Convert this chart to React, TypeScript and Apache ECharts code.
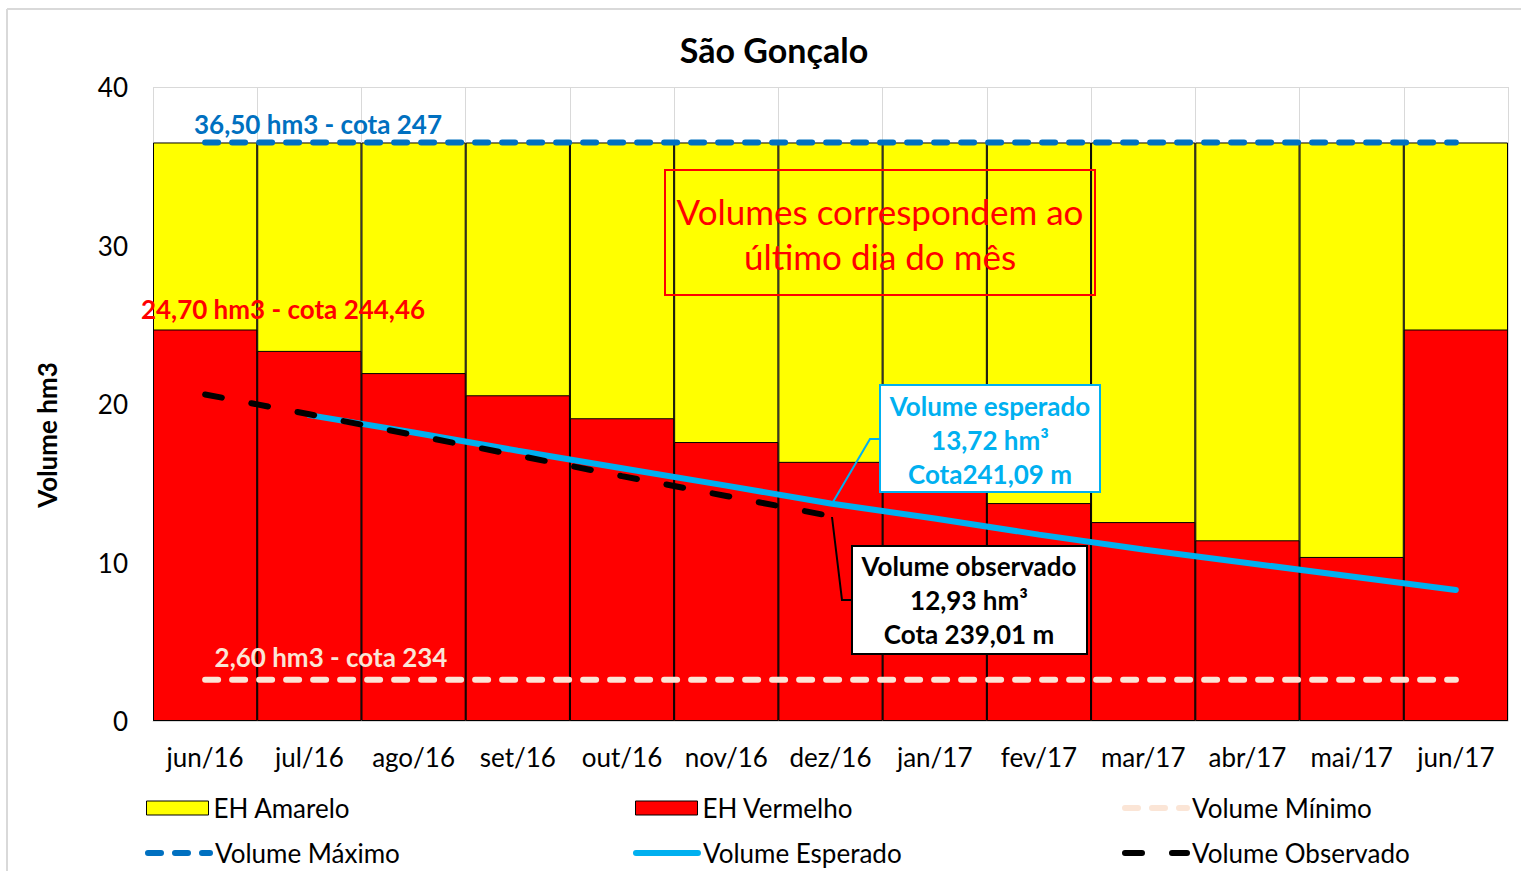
import React, { useEffect, useRef } from "react";
import * as echarts from "echarts";

const categories = ["jun/16", "jul/16", "ago/16", "set/16", "out/16", "nov/16", "dez/16", "jan/17", "fev/17", "mar/17", "abr/17", "mai/17", "jun/17"];
const ehAmarelo = [36.5, 36.5, 36.5, 36.5, 36.5, 36.5, 36.5, 36.5, 36.5, 36.5, 36.5, 36.5, 36.5];
const ehVermelho = [24.7, 23.35, 21.95, 20.55, 19.1, 17.6, 16.35, 15.05, 13.75, 12.55, 11.4, 10.35, 24.7];
const volumeMinimo = [2.6, 2.6, 2.6, 2.6, 2.6, 2.6, 2.6, 2.6, 2.6, 2.6, 2.6, 2.6, 2.6];
const volumeMaximo = [36.5, 36.5, 36.5, 36.5, 36.5, 36.5, 36.5, 36.5, 36.5, 36.5, 36.5, 36.5, 36.5];
const volumeEsperado = [null, 19.3, 18.2, 17.05, 15.95, 14.85, 13.72, 12.78, 11.76, 10.82, 9.97, 9.12, 8.27];
const volumeObservado = [20.6, 19.35, 18.05, 16.75, 15.45, 14.2, 12.93, null, null, null, null, null, null];
const yTicks = { min: 0, max: 40, interval: 10 };

const FONT = "Lato, 'Open Sans', sans-serif";

export default function App() {
  const ref = useRef<HTMLDivElement>(null);
  useEffect(() => {
    document.body.style.margin = "0";
    document.body.style.overflow = "hidden";
    const chart = echarts.init(ref.current!, null, { renderer: "svg" });
    const legendBase = {
      itemWidth: 62,
      itemHeight: 14,
      padding: 0,
      selectedMode: false,
      textStyle: { fontSize: 26, color: "#000", fontFamily: FONT },
    };
    const barLegend = { ...legendBase, icon: "rect", itemStyle: { borderWidth: 1, borderColor: "#000" } };
    const lineLegend = { ...legendBase, itemStyle: { opacity: 0 }, lineStyle: { width: 6 } };
    const lineBase = { type: "line", symbol: "none", showSymbol: false, connectNulls: false };
    chart.setOption({
      animation: false,
      backgroundColor: "#fff",
      title: {
        text: "São Gonçalo",
        left: 769,
        top: 27,
        textAlign: "center",
        textStyle: { fontSize: 34, fontWeight: "bold", color: "#000", fontFamily: FONT },
      },
      grid: { left: 153, right: 13, top: 87, bottom: 150, containLabel: false },
      xAxis: {
        type: "category",
        data: categories,
        boundaryGap: true,
        axisLine: { show: true, lineStyle: { color: "#D9D9D9", width: 1 } },
        axisTick: { show: false },
        axisLabel: { fontSize: 26, color: "#000", margin: 23, fontFamily: FONT, interval: 0 },
        splitLine: { show: true, lineStyle: { color: "#D9D9D9", width: 1 } },
      },
      yAxis: {
        type: "value",
        min: yTicks.min,
        max: yTicks.max,
        interval: yTicks.interval,
        axisLine: { show: false },
        axisTick: { show: false },
        axisLabel: { fontSize: 26, color: "#000", margin: 25, fontFamily: FONT },
        splitLine: { show: true, lineStyle: { color: "#D9D9D9", width: 1 } },
      },
      legend: [
        { ...barLegend, data: ["EH Amarelo"], left: 146, top: 795 },
        { ...barLegend, data: ["EH Vermelho"], left: 635, top: 795 },
        { ...lineLegend, data: ["Volume Mínimo"], left: 1122, top: 795 },
        { ...lineLegend, data: ["Volume Máximo"], left: 145, top: 840 },
        { ...lineLegend, data: ["Volume Esperado"], left: 633, top: 840 },
        { ...lineLegend, data: ["Volume Observado"], left: 1122, top: 840 },
      ],
      series: [
        {
          name: "EH Amarelo",
          type: "bar",
          data: ehAmarelo,
          barCategoryGap: "0%",
          barGap: "-100%",
          itemStyle: { color: "#FFFF00", borderColor: "#000", borderWidth: 1 },
          z: 2,
        },
        {
          name: "EH Vermelho",
          type: "bar",
          data: ehVermelho,
          barCategoryGap: "0%",
          barGap: "-100%",
          itemStyle: { color: "#FF0000", borderColor: "#000", borderWidth: 1 },
          z: 3,
        },
        {
          ...lineBase,
          name: "Volume Mínimo",
          data: volumeMinimo,
          itemStyle: { color: "#FBE5D6" },
          lineStyle: { color: "#FBE5D6", width: 6, type: [13, 14], cap: "round" },
          z: 5,
        },
        {
          ...lineBase,
          name: "Volume Máximo",
          data: volumeMaximo,
          itemStyle: { color: "#0070C0" },
          lineStyle: { color: "#0070C0", width: 6, type: [13, 14], cap: "round" },
          z: 5,
        },
        {
          ...lineBase,
          name: "Volume Esperado",
          data: volumeEsperado,
          itemStyle: { color: "#00B0F0" },
          lineStyle: { color: "#00B0F0", width: 6, type: "solid", cap: "round" },
          z: 6,
        },
        {
          ...lineBase,
          name: "Volume Observado",
          data: volumeObservado,
          itemStyle: { color: "#000" },
          lineStyle: { color: "#000", width: 6, type: [17, 30], cap: "round" },
          z: 7,
        },
      ],
      graphic: [
        { type: "line", z: 100, shape: { x1: 7, y1: 9, x2: 1521, y2: 9 }, style: { stroke: "#D9D9D9", lineWidth: 2 } },
        { type: "line", z: 100, shape: { x1: 7, y1: 9, x2: 7, y2: 871 }, style: { stroke: "#D9D9D9", lineWidth: 2 } },
        {
          type: "text", z: 100, x: 47, y: 435, rotation: Math.PI / 2,
          style: { text: "Volume hm3", fill: "#000", fontSize: 26, fontWeight: "bold", fontFamily: FONT, align: "center", verticalAlign: "middle" },
        },
        {
          type: "text", z: 100, x: 318, y: 124,
          style: { text: "36,50 hm3 - cota 247", fill: "#0070C0", fontSize: 26, fontWeight: "bold", fontFamily: FONT, align: "center", verticalAlign: "middle" },
        },
        {
          type: "text", z: 100, x: 283, y: 309,
          style: { text: "24,70 hm3 - cota 244,46", fill: "#FF0000", fontSize: 26, fontWeight: "bold", fontFamily: FONT, align: "center", verticalAlign: "middle" },
        },
        {
          type: "text", z: 100, x: 331, y: 657,
          style: { text: "2,60 hm3 - cota 234", fill: "#FBE5D6", fontSize: 26, fontWeight: "bold", fontFamily: FONT, align: "center", verticalAlign: "middle" },
        },
        {
          type: "rect", z: 100, shape: { x: 665, y: 170, width: 430, height: 125 },
          style: { fill: "transparent", stroke: "#FF0000", lineWidth: 2 },
        },
        {
          type: "text", z: 101, x: 880, y: 233,
          style: { text: "Volumes correspondem ao\núltimo dia do mês", fill: "#FF0000", fontSize: 35, lineHeight: 45, fontFamily: FONT, align: "center", verticalAlign: "middle" },
        },
        {
          type: "polyline", z: 100, shape: { points: [[833, 502], [870, 439], [880, 439]] },
          style: { stroke: "#00B0F0", lineWidth: 2, fill: "none" },
        },
        {
          type: "rect", z: 100, shape: { x: 880, y: 385, width: 220, height: 107 },
          style: { fill: "#fff", stroke: "#00B0F0", lineWidth: 2 },
        },
        {
          type: "text", z: 101, x: 990, y: 440,
          style: { text: "Volume esperado\n13,72 hm³\nCota241,09 m", fill: "#00B0F0", fontSize: 26, fontWeight: "bold", lineHeight: 34, fontFamily: FONT, align: "center", verticalAlign: "middle" },
        },
        {
          type: "polyline", z: 100, shape: { points: [[832, 517], [842, 600], [852, 600]] },
          style: { stroke: "#000", lineWidth: 2, fill: "none" },
        },
        {
          type: "rect", z: 100, shape: { x: 852, y: 546, width: 235, height: 108 },
          style: { fill: "#fff", stroke: "#000", lineWidth: 2 },
        },
        {
          type: "text", z: 101, x: 969, y: 600,
          style: { text: "Volume observado\n12,93 hm³\nCota 239,01 m", fill: "#000", fontSize: 26, fontWeight: "bold", lineHeight: 34, fontFamily: FONT, align: "center", verticalAlign: "middle" },
        },
      ],
    });
    return () => chart.dispose();
  }, []);
  return <div ref={ref} style={{ width: 1521, height: 871 }} />;
}
